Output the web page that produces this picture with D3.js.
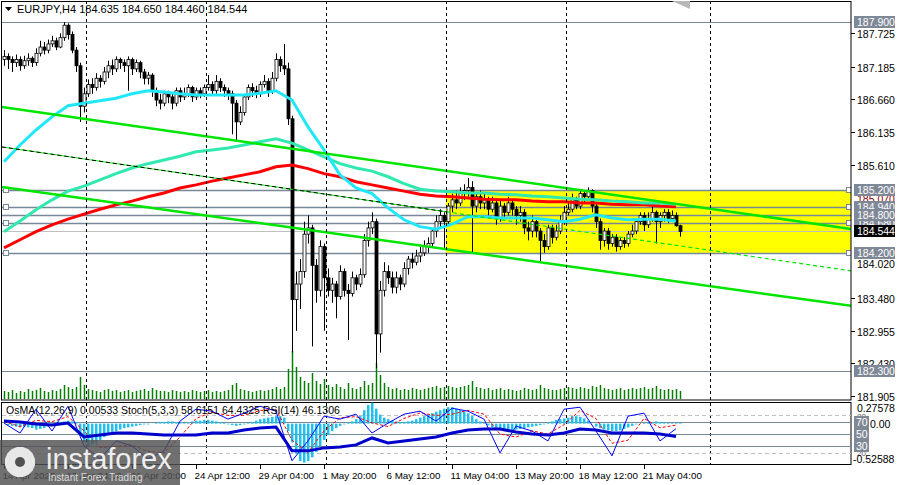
<!DOCTYPE html>
<html><head><meta charset="utf-8">
<script src="https://cdn.jsdelivr.net/npm/d3@7"></script>
<style>
body{margin:0;background:#fff;}
text{font-family:"Liberation Sans",Arial,sans-serif;}
</style></head>
<body><svg id="chart" width="898" height="485"></svg>
<script>
// EURJPY H4 candles (open = previous close)
let closes = [187.35,187.30,187.25,187.30,187.20,187.28,187.32,187.25,187.40,187.50,
187.45,187.55,187.60,187.50,187.65,187.85,187.70,187.45,187.20,186.55,
186.75,186.90,186.85,187.00,186.95,187.10,187.20,187.15,187.30,187.25,
187.20,187.30,187.15,187.25,187.10,187.00,187.05,186.80,186.65,186.60,
186.75,186.70,186.60,186.80,186.70,186.75,186.85,186.70,186.80,186.75,
186.85,186.90,186.80,186.95,186.85,186.80,186.75,186.60,186.30,186.45,
186.70,186.85,186.80,186.75,186.90,186.95,186.80,187.00,187.30,187.20,
187.15,186.35,183.45,183.70,183.90,184.50,184.60,184.00,183.60,184.30,
183.80,183.60,183.70,183.50,183.90,183.60,183.55,183.80,183.70,183.85,
184.40,184.60,184.70,182.90,183.60,183.90,183.80,183.65,183.80,183.70,
183.95,184.10,184.05,184.15,184.20,184.30,184.35,184.55,184.70,184.80,
184.70,184.95,185.05,185.00,185.15,185.20,185.25,184.95,185.10,185.00,
185.05,184.90,185.00,184.75,184.95,184.85,185.00,184.90,184.80,184.85,
184.60,184.55,184.70,184.55,184.40,184.30,184.60,184.45,184.55,184.70,
184.85,184.90,185.05,184.95,185.15,185.10,185.20,184.95,184.70,184.40,
184.55,184.35,184.45,184.30,184.40,184.35,184.50,184.55,184.70,184.80,
184.65,184.75,184.85,184.70,184.80,184.85,184.75,184.80,184.635,184.544];
let highs = [187.45,187.40,187.35,187.38,187.35,187.36,187.40,187.35,187.48,187.60,
187.58,187.62,187.68,187.65,187.72,187.90,187.88,187.75,187.50,187.25,
186.85,186.98,187.00,187.08,187.05,187.18,187.28,187.30,187.35,187.33,
187.30,187.35,187.33,187.30,187.28,187.15,187.10,187.08,186.85,186.75,
186.80,186.80,186.75,186.85,186.85,186.85,186.90,186.88,186.85,186.85,
186.90,187.05,186.95,187.05,187.00,186.90,186.85,186.80,186.65,186.55,
186.75,186.90,186.92,186.88,186.95,187.05,187.00,187.10,187.40,187.35,
187.55,187.25,186.40,183.90,184.10,184.70,184.80,184.65,184.10,184.40,
184.35,183.95,183.80,183.75,184.00,183.95,183.70,183.90,183.85,183.95,
184.50,184.70,184.85,184.75,183.75,184.05,184.00,183.90,183.90,183.85,
184.05,184.15,184.20,184.25,184.30,184.40,184.45,184.60,184.80,184.90,
184.85,185.00,185.15,185.20,185.25,185.30,185.40,185.35,185.15,185.20,
185.15,185.10,185.10,185.05,185.05,185.00,185.10,185.05,184.95,184.95,
184.90,184.70,184.80,184.75,184.60,184.50,184.65,184.65,184.65,184.80,
184.95,185.00,185.15,185.10,185.20,185.20,185.25,185.22,185.00,184.75,
184.60,184.60,184.50,184.50,184.45,184.45,184.55,184.65,184.75,184.85,
184.85,184.85,184.95,184.88,184.85,184.90,184.90,184.88,184.85,184.650];
let lows = [187.20,187.15,187.10,187.18,187.12,187.15,187.20,187.18,187.20,187.35,
187.38,187.40,187.50,187.45,187.48,187.60,187.62,187.40,187.10,186.30,
186.45,186.70,186.75,186.80,186.85,186.90,187.00,187.05,187.10,187.15,
187.10,186.80,187.05,187.10,187.00,186.90,186.90,186.70,186.55,186.50,
186.55,186.60,186.50,186.55,186.62,186.65,186.70,186.62,186.65,186.68,
186.70,186.80,186.72,186.75,186.78,186.70,186.65,186.10,186.00,186.25,
186.40,186.65,186.70,186.68,186.70,186.85,186.70,186.75,186.95,187.10,
187.05,186.25,182.60,182.95,183.30,183.80,184.35,182.70,183.40,183.50,
182.95,183.50,183.40,183.15,183.45,183.50,182.80,183.50,183.60,183.65,
183.80,184.30,184.50,182.35,182.60,183.50,183.70,183.55,183.55,183.60,
183.65,183.85,183.95,184.00,184.05,184.15,184.20,184.30,184.45,184.60,
184.25,184.65,184.85,184.90,184.95,185.05,185.10,184.20,184.85,184.90,
184.90,184.80,184.85,184.65,184.70,184.75,184.80,184.80,184.65,184.70,
184.50,184.40,184.45,184.45,184.05,184.20,184.25,184.35,184.40,184.50,
184.65,184.80,184.85,184.90,184.90,185.00,185.05,184.85,184.60,184.25,
184.30,184.25,184.30,184.22,184.25,184.28,184.30,184.45,184.50,184.65,
184.55,184.60,184.70,184.35,184.60,184.70,184.68,184.70,184.62,184.460];
let volumes = [8,7,9,6,8,7,10,8,9,11,8,7,9,8,10,14,12,10,12,22,
14,10,9,8,7,9,10,8,9,7,8,9,7,8,9,10,8,11,9,8,
8,7,9,8,7,8,7,9,8,7,8,9,7,8,7,8,9,14,16,10,
9,8,7,8,9,8,9,10,12,10,12,30,48,32,22,18,16,26,18,15,
20,14,12,15,12,10,16,11,10,12,18,14,16,36,24,16,12,10,11,9,
10,9,11,10,9,10,11,12,13,11,12,13,12,11,12,13,14,18,12,11,
10,11,9,10,11,9,10,9,8,9,11,10,9,10,14,11,10,9,9,10,
11,12,11,10,12,11,10,13,12,14,11,10,9,10,11,9,10,11,10,11,
12,10,11,13,10,9,10,9,10,8];

// moving averages, one value every 4 bars
let maStep = 4;
let maFast = [185.66,185.93,186.17,186.38,186.56,186.60,186.64,186.68,186.75,186.80,186.78,186.75,186.73,186.73,186.73,186.73,186.76,186.80,186.65,186.22,185.85,185.45,185.24,185.15,184.92,184.73,184.62,184.58,184.66,184.78,184.78,184.76,184.76,184.76,184.73,184.70,184.74,184.81,184.76,184.73,184.74,184.74,184.71];
let maMid = [184.54,184.71,184.89,185.05,185.19,185.27,185.37,185.47,185.56,185.63,185.69,185.75,185.82,185.85,185.88,185.93,185.98,186.03,185.96,185.85,185.74,185.63,185.56,185.51,185.42,185.31,185.22,185.19,185.18,185.16,185.16,185.14,185.13,185.11,185.10,185.08,185.06,185.05,185.03,185.02,185.00,185.00,184.98];
let maSlow = [184.28,184.41,184.54,184.65,184.74,184.82,184.90,184.97,185.03,185.10,185.16,185.24,185.29,185.35,185.40,185.45,185.50,185.58,185.61,185.55,185.47,185.42,185.34,185.29,185.24,185.19,185.14,185.11,185.10,185.08,185.06,185.05,185.05,185.03,185.02,185.02,185.00,185.00,184.98,184.97,184.97,184.95,184.94];

// channel lines [bar0, price0, bar1, price1]
let channelUpper = [-0.5,186.539,211.75,184.584];
let channelLower = [-0.5,185.257,211.75,183.350];
let channelMid = [-0.5,185.898,211.75,183.911];
let channelMidSplit = 110.5;

// support/resistance
let zoneTop = 185.2, zoneBottom = 184.2, zoneStartBar = 110.5;
let levelsMarked = [185.200,184.940,184.680,184.200];
let levelPlain = [184.800];
let levelLast = 184.544;
let levelOuter = [187.900,182.300];

let priceTicks = [187.725,187.185,186.660,186.135,185.610,183.480,182.955,182.430,181.905];
let timeLabels = ["14 Apr 2025","17 Apr 04:00","21 Apr 20:00","24 Apr 12:00","29 Apr 04:00","1 May 20:00","6 May 12:00","11 May 04:00","13 May 20:00","18 May 12:00","21 May 04:00"];
let timeBars = [0,16,32,48,64,80,96,112,128,144,160];
let gridBars = [20.5,50.5,80.5,110.5,140.5,176.5];

// oscillators
let osma = [0,-2,-3,-4,-5,-4,-5,-6,-8,-7,-6,-4,-3,1,2,3,4,3,2,-15,
-25,-30,-28,-25,-22,-18,-15,-12,-10,-8,-6,-5,-4,-3,-2,-1,-1,0,1,2,
2,3,3,2,2,1,2,3,4,4,5,5,4,3,2,1,-1,-2,-3,-2,
-1,1,2,4,6,7,8,9,10,10,8,-10,-25,-40,-50,-52,-50,-45,-38,-30,
-22,-15,-10,-6,-3,-1,1,3,6,10,18,25,28,20,12,8,6,4,3,2,
2,3,4,6,8,10,12,14,16,18,20,22,22,20,18,16,14,10,6,3,
1,-2,-5,-8,-9,-10,-10,-9,-8,-7,-6,-5,-4,-3,-2,-1,1,3,5,6,
7,8,10,10,9,7,4,0,-4,-6,-8,-9,-10,-10,-9,-7,-5,-3,-1,0,
1,2,2,3,2,2,1,1,1,1]; // hundredths
let stochK = [67.6,51.6,90,54.8,94.8,30.8,10,38.8,30.8,10,22.8,70.8,90,86.8,74,83.6,94.8,86.8,6.8,38.8,78.8,74,82,51.6,67.6,82,86.8,70.8,91.6,86.8,74,19.6,62.8,54.8,38.8,90,93.2,54.8,14.8,78.8,83.6,38.8,58.6];
let stochD = [70,62,72,70,78,55,28,30,32,22,20,45,75,85,80,80,88,90,40,20,55,76,78,68,62,75,84,80,82,88,82,50,45,55,50,65,88,75,35,40,75,60,64.4];
let rsi = [70.8,69.2,66,64.4,67.6,45.2,48.4,51.6,51.6,50,48.4,48.4,48.4,51.6,51.6,56.4,59.6,61.2,22.8,22.8,27.6,29.2,32.4,43.6,35.6,38.8,42,45.2,51.6,56.4,58,58,53.2,50,48.4,51.6,58,56.4,51.6,51.6,51.6,50,46.13];
let oscLevelsSolid = [70,50,30];
let oscLevelsDash = [80,20];
let osmaRange = [-0.52588,0.27578];

const svg = d3.select('#chart');
const right = 851;
const x = d3.scaleLinear().domain([0,169]).range([4,680]);
const y = d3.scaleLinear().domain([181.905,187.725]).range([396,33]);
const yVol = d3.scaleLinear().domain([0,50]).range([399,349]);
const yOsc = d3.scaleLinear().domain([0,100]).range([465,403]);
const yOsma = d3.scaleLinear().domain(osmaRange).range([463,403]);
const FS = 10.5;

const main = svg.append('g');
main.append('defs').append('clipPath').attr('id','clipMain')
  .append('rect').attr('x',1).attr('y',1).attr('width',right-1).attr('height',399);
const clip = main.append('g').attr('clip-path','url(#clipMain)');

// yellow zone
clip.append('rect').attr('x',x(zoneStartBar)).attr('y',y(zoneTop))
  .attr('width',right-x(zoneStartBar)).attr('height',y(zoneBottom)-y(zoneTop)).attr('fill','#ffff00');

// vertical grid
svg.append('g').selectAll('line').data(gridBars).join('line')
  .attr('x1',d=>Math.round(x(d))+0.5).attr('x2',d=>Math.round(x(d))+0.5)
  .attr('y1',1).attr('y2',465).attr('stroke','#000').attr('stroke-dasharray','3,3');

// horizontal levels
clip.selectAll('.lvo').data(levelOuter).join('line')
  .attr('x1',1).attr('x2',right).attr('y1',d=>Math.round(y(d))+0.5).attr('y2',d=>Math.round(y(d))+0.5)
  .attr('stroke','#778899');
clip.selectAll('.lvm').data(levelsMarked.concat(levelPlain)).join('line')
  .attr('x1',1).attr('x2',right).attr('y1',d=>Math.round(y(d))+0.5).attr('y2',d=>Math.round(y(d))+0.5)
  .attr('stroke','#778899').attr('stroke-width',1.5);
clip.append('line').attr('x1',1).attr('x2',right)
  .attr('y1',Math.round(y(levelLast))+0.5).attr('y2',Math.round(y(levelLast))+0.5).attr('stroke','#c0c0c0');
levelsMarked.forEach(p => {
  [4,847].forEach(px => {
    clip.append('rect').attr('x',px-0.5).attr('y',Math.round(y(p))-2.5).attr('width',5).attr('height',5)
      .attr('fill','#fff').attr('stroke','#778899');
  });
});

// volumes
clip.append('g').selectAll('line').data(volumes).join('line')
  .attr('x1',(d,i)=>Math.round(x(i))+0.5).attr('x2',(d,i)=>Math.round(x(i))+0.5)
  .attr('y1',399).attr('y2',d=>yVol(d)).attr('stroke','#008000').attr('stroke-width',1.5);

// candles
const candles = closes.map((c,i)=>({i, o: i===0 ? 187.30 : closes[i-1], c, h: highs[i], l: lows[i]}));
const cg = clip.append('g');
cg.selectAll('line').data(candles).join('line')
  .attr('x1',d=>Math.round(x(d.i))+0.5).attr('x2',d=>Math.round(x(d.i))+0.5)
  .attr('y1',d=>y(d.h)).attr('y2',d=>y(d.l)).attr('stroke','#000');
cg.selectAll('rect').data(candles).join('rect')
  .attr('x',d=>Math.round(x(d.i))-1).attr('width',3)
  .attr('y',d=>y(Math.max(d.o,d.c))).attr('height',d=>Math.max(1,Math.abs(y(d.o)-y(d.c))))
  .attr('fill',d=>d.c>=d.o ? '#fff' : '#000').attr('stroke','#000').attr('stroke-width',0.8);

// moving averages
const maLine = d3.line().x((d,i)=>x(i*maStep)).y(d=>y(d));
[[maSlow,'#ff0000'],[maMid,'#30e8b0'],[maFast,'#20e8f8']].forEach(([data,col]) => {
  clip.append('path').attr('d',maLine(data)).attr('fill','none').attr('stroke',col).attr('stroke-width',3);
});

// channel
const seg = (a) => [[x(a[0]),y(a[1])],[x(a[2]),y(a[3])]];
[channelUpper,channelLower].forEach(c => {
  clip.append('path').attr('d',d3.line()(seg(c))).attr('stroke','#00e600').attr('stroke-width',2.5);
});
const midAt = b => channelMid[1] + (channelMid[3]-channelMid[1])*(b-channelMid[0])/(channelMid[2]-channelMid[0]);
clip.append('line').attr('x1',x(channelMid[0])).attr('y1',y(channelMid[1]))
  .attr('x2',x(channelMidSplit)).attr('y2',y(midAt(channelMidSplit))).attr('stroke','#00e600').attr('stroke-width',1);
clip.append('line').attr('x1',x(channelMid[0])).attr('y1',y(channelMid[1]))
  .attr('x2',x(channelMidSplit)).attr('y2',y(midAt(channelMidSplit))).attr('stroke','#000').attr('stroke-width',1).attr('stroke-dasharray','4,3');
clip.append('line').attr('x1',x(channelMidSplit)).attr('y1',y(midAt(channelMidSplit)))
  .attr('x2',x(channelMid[2])).attr('y2',y(channelMid[3])).attr('stroke','#00e600').attr('stroke-width',1.2).attr('stroke-dasharray','4,3');

// frames
svg.append('rect').attr('x',1.5).attr('y',1.5).attr('width',right-1.5).attr('height',398.5).attr('fill','none').attr('stroke','#000');
svg.append('rect').attr('x',1.5).attr('y',402.5).attr('width',right-1.5).attr('height',62).attr('fill','none').attr('stroke','#000');
svg.append('path').attr('d','M672,1 L690,1 L690,9 Z').attr('fill','#b8b8b8');

// title
svg.append('path').attr('d','M5,7 L12,7 L8.5,11 Z').attr('fill','#000');
svg.append('text').attr('x',17).attr('y',13).attr('font-size',11).text('EURJPY,H4  184.635 184.650 184.460 184.544');

// price axis
const ax = svg.append('g');
priceTicks.forEach(p => {
  const yy = Math.round(y(p))+0.5;
  ax.append('line').attr('x1',right).attr('x2',right+4).attr('y1',yy).attr('y2',yy).attr('stroke','#000');
  ax.append('text').attr('x',857).attr('y',yy+4).attr('font-size',FS).text(p.toFixed(3));
});
const tag = (p, bg, fg) => {
  const yy = Math.round(y(p));
  ax.append('rect').attr('x',854).attr('y',yy-6).attr('width',41).attr('height',12).attr('fill',bg);
  ax.append('text').attr('x',857).attr('y',yy+4).attr('font-size',FS).attr('fill',fg).text(p.toFixed(3));
};
tag(184.020,'#fff','#000');
tag(185.070,'#fff','#8b0000');
levelOuter.concat(levelsMarked, levelPlain).forEach(p => tag(p,'#7f8896','#fff'));
tag(levelLast,'#000','#fff');

// oscillator panel
const og = svg.append('g');
oscLevelsDash.forEach(v => og.append('line').attr('x1',2).attr('x2',right).attr('y1',Math.round(yOsc(v))+0.5).attr('y2',Math.round(yOsc(v))+0.5)
  .attr('stroke','#c0c0c0').attr('stroke-dasharray','4,3'));
oscLevelsSolid.forEach(v => og.append('line').attr('x1',2).attr('x2',right).attr('y1',Math.round(yOsc(v))+0.5).attr('y2',Math.round(yOsc(v))+0.5)
  .attr('stroke','#778899'));
og.selectAll('.os').data(osma).join('rect')
  .attr('x',(d,i)=>Math.round(x(i))-1).attr('width',2.5)
  .attr('y',d=>Math.min(yOsma(0),yOsma(d/100))).attr('height',d=>Math.abs(yOsma(d/100)-yOsma(0)))
  .attr('fill','#1ec0f0');
const oscLine = d3.line().x((d,i)=>x(i*maStep)).y(d=>yOsc(d));
og.append('path').attr('d',oscLine(stochD)).attr('fill','none').attr('stroke','#ff0000').attr('stroke-dasharray','3,2');
og.append('path').attr('d',oscLine(stochK)).attr('fill','none').attr('stroke','#0000ff');
og.append('path').attr('d',oscLine(rsi)).attr('fill','none').attr('stroke','#0000cd').attr('stroke-width',3);
og.append('text').attr('x',6).attr('y',414).attr('font-size',FS).text('OsMA(12,26,9) 0.00533  Stoch(5,3,3) 58.6151 64.4325  RSI(14) 46.1306');

og.append('text').attr('x',857).attr('y',412).attr('font-size',FS).text(osmaRange[1].toFixed(5));
og.append('text').attr('x',857).attr('y',419).attr('font-size',8).attr('fill','#555').text('80');
og.append('text').attr('x',870).attr('y',428).attr('font-size',FS).text('0.00');
og.append('text').attr('x',857).attr('y',456).attr('font-size',8).attr('fill','#555').text('20');
oscLevelsSolid.forEach(v => {
  const yy = Math.round(yOsc(v));
  og.append('rect').attr('x',854).attr('y',yy-6).attr('width',15).attr('height',12).attr('fill','#7f8896');
  og.append('text').attr('x',856).attr('y',yy+4).attr('font-size',FS).attr('fill','#fff').text(v);
});
og.append('text').attr('x',853).attr('y',463).attr('font-size',FS).text(osmaRange[0].toFixed(5));

// time axis
timeBars.forEach((b,k) => {
  const xx = Math.round(x(b))+0.5;
  svg.append('line').attr('x1',xx).attr('x2',xx).attr('y1',465).attr('y2',469).attr('stroke','#000');
  svg.append('text').attr('x',xx-2).attr('y',479).attr('font-size',9.8).text(timeLabels[k]);
});

// watermark
const wm = svg.append('g');
wm.append('rect').attr('x',0).attr('y',440).attr('width',180).attr('height',45).attr('fill','#505050').attr('opacity',0.82);
const gear = wm.append('g').attr('transform','translate(20,462)').attr('fill','#e8e8e8');
d3.range(8).forEach(k => gear.append('rect').attr('x',-3).attr('y',-15).attr('width',6).attr('height',30)
  .attr('transform',`rotate(${k*22.5})`));
gear.append('circle').attr('r',11);
gear.append('circle').attr('r',5).attr('fill','#505050');
wm.append('text').attr('x',46).attr('y',469).attr('font-size',29).attr('fill','#eee').attr('font-family','"Open Sans",sans-serif').text('instaforex');
wm.append('text').attr('x',48).attr('y',481).attr('font-size',10).attr('fill','#ddd').text('Instant Forex Trading');
</script></body></html>
